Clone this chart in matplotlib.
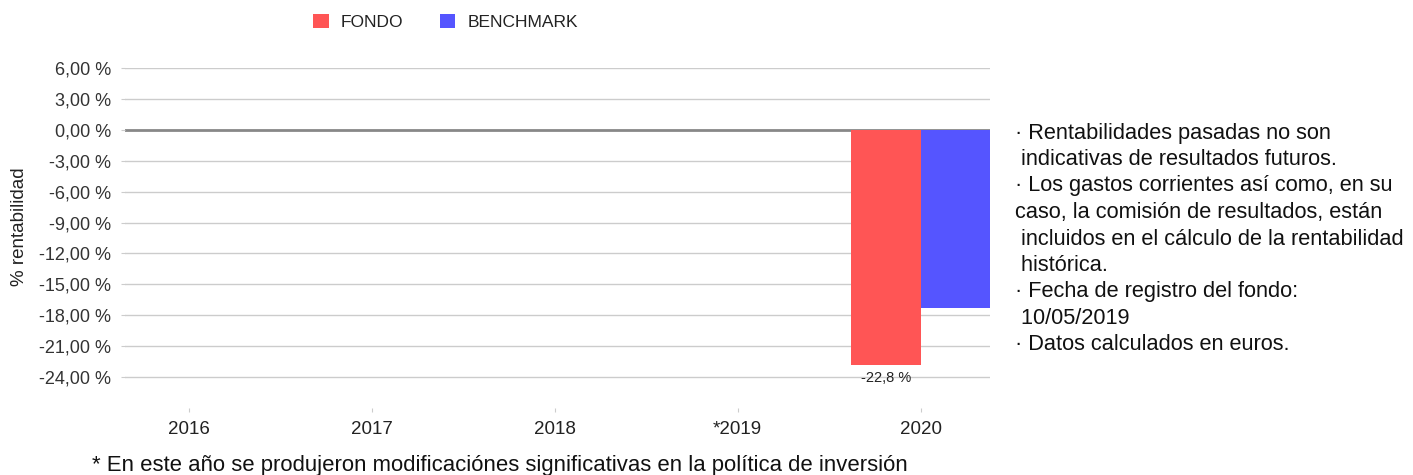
import numpy as np
import matplotlib
matplotlib.use("Agg")
import matplotlib.pyplot as plt

plt.rcParams['font.family'] = ['Liberation Sans', 'DejaVu Sans']

years = ["2016", "2017", "2018", "*2019", "2020"]
fondo = [np.nan, np.nan, np.nan, np.nan, -22.8]
benchmark = [np.nan, np.nan, np.nan, np.nan, -17.3]
fondo_labels = ["", "", "", "", "-22,8 %"]
yticks = [6, 3, 0, -3, -6, -9, -12, -15, -18, -21, -24]
notes = [
    "· Rentabilidades pasadas no son",
    " indicativas de resultados futuros.",
    "· Los gastos corrientes así como, en su",
    "caso, la comisión de resultados, están",
    " incluidos en el cálculo de la rentabilidad",
    " histórica.",
    "· Fecha de registro del fondo:",
    " 10/05/2019",
    "· Datos calculados en euros.",
]
footnote = "* En este año se produjeron modificaciónes significativas en la política de inversión"

RED = "#ff5555"
BLUE = "#5555ff"

W, H = 1413, 475
fig = plt.figure(figsize=(W / 100, H / 100), dpi=100)
ax = fig.add_axes([125 / W, 1 - 408 / H, (990 - 125) / W, (408 - 68) / H])

x = np.arange(len(years))
bw = 0.38
ax.bar(x - bw / 2, fondo, width=bw, color=RED, label="FONDO", zorder=3)
ax.bar(x + bw / 2, benchmark, width=bw, color=BLUE, label="BENCHMARK", zorder=3)

for xi, v, lab in zip(x, fondo, fondo_labels):
    if lab and not np.isnan(v):
        ax.annotate(lab, (xi - bw / 2, v), xytext=(0, -9.5), textcoords="offset points",
                    ha="center", va="center", fontsize=10.5, color="#222222", zorder=4)

ax.set_xlim(-0.35, 4.38)
ax.set_ylim(-27, 6)
ax.set_yticks(yticks)
ax.set_yticklabels([f"{t:.2f}".replace(".", ",") + " %" for t in yticks], fontsize=13, color="#333333")
for t in yticks:
    ax.axhline(t, color="#888888" if t == 0 else "#cccccc", lw=2 if t == 0 else 1, zorder=1)
ax.tick_params(axis="y", length=3, color="#cccccc", pad=7)
ax.set_xticks(x)
ax.set_xticklabels(years, fontsize=13.5, color="#222222")
ax.tick_params(axis="x", length=3, color="#cccccc", pad=6)
for s in ax.spines.values():
    s.set_visible(False)

fig.text(20 / W, 1 - 227 / H, "% rentabilidad", rotation=90, ha="center", va="center",
         fontsize=13.5, color="#222222")

leg = fig.legend(loc="center left", bbox_to_anchor=(313 / W, 1 - 22 / H), ncol=2, frameon=False,
                 fontsize=12.5, handlelength=0.9, handleheight=0.9, columnspacing=2.1,
                 handletextpad=0.7, borderpad=0, borderaxespad=0)
for t in leg.get_texts():
    t.set_color("#222222")

y0 = 1 - 133 / H
for i, line in enumerate(notes):
    fig.text(1015 / W, y0 - i * 26.5 / H, line, fontsize=15.7, color="#111111", va="center", ha="left")

fig.text(92 / W, 1 - 465 / H, footnote, fontsize=15.9, color="#111111", va="center", ha="left")

fig.savefig("out.png", dpi=100)
